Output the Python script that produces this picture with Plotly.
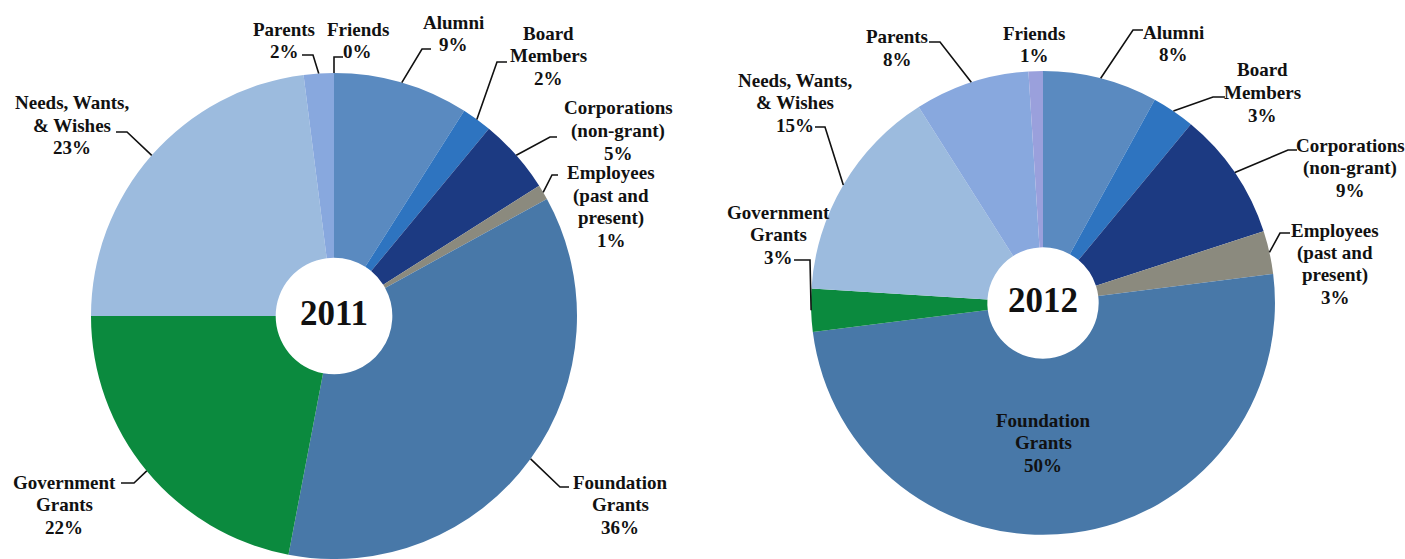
import math
import plotly.graph_objects as go

W, H = 1405, 559

# ---------------- data ----------------
categories = ["Alumni", "Board Members", "Corporations (non-grant)",
              "Employees (past and present)", "Foundation Grants",
              "Government Grants", "Needs, Wants, & Wishes", "Parents", "Friends"]
label_lines = {
    "Alumni": ["Alumni"],
    "Board Members": ["Board", "Members"],
    "Corporations (non-grant)": ["Corporations", "(non-grant)"],
    "Employees (past and present)": ["Employees", "(past and", "present)"],
    "Foundation Grants": ["Foundation", "Grants"],
    "Government Grants": ["Government", "Grants"],
    "Needs, Wants, & Wishes": ["Needs, Wants,", "& Wishes"],
    "Parents": ["Parents"],
    "Friends": ["Friends"],
}
values_2011 = [9, 2, 5, 1, 36, 22, 23, 2, 0]
values_2012 = [8, 3, 9, 3, 50, 3, 15, 8, 1]
years = ["2011", "2012"]

colors = ["#5A8AC0", "#2E74C0", "#1C3A82", "#8B8A7E", "#4878A8",
          "#0B8A3E", "#9CBBDE", "#88A8DE", "#9AA0DC"]

# ---------------- layout (pixel placements) ----------------
pie_geom = {
    "2011": dict(cx=334, cy=316, r=243),
    "2012": dict(cx=1043, cy=303, r=232),
}
# text centre x, first line y, leader corner, leader end (near text)
label_place = {
    "2011": {
        "Alumni": (453, 22, (422, 49), (431, 49)),
        "Board Members": (548, 33, (497, 62), (507, 62)),
        "Corporations (non-grant)": (618, 108, (550, 137), (557, 137)),
        "Employees (past and present)": (611, 173, (552, 175), (558, 175)),
        "Foundation Grants": (620, 482, (560, 487), (569, 487)),
        "Government Grants": (64, 482, (134, 483), (121, 483)),
        "Needs, Wants, & Wishes": (72, 103, (127, 132), (116, 132)),
        "Parents": (284, 29, (313, 55), (302, 55)),
        "Friends": (358, 29, (334, 57), (343, 57)),
    },
    "2012": {
        "Alumni": (1173, 32, (1133, 30), (1143, 30)),
        "Board Members": (1262, 70, (1213, 97), (1225, 97)),
        "Corporations (non-grant)": (1350, 145, (1288, 150), (1297, 150)),
        "Employees (past and present)": (1335, 230, (1280, 233), (1290, 233)),
        "Foundation Grants": (1043, 420, None, None),
        "Government Grants": (778, 212, (810, 260), (794, 260)),
        "Needs, Wants, & Wishes": (795, 80, (825, 127), (815, 127)),
        "Parents": (897, 37, (940, 42), (929, 42)),
        "Friends": (1034, 33, None, None),
    },
}
LINE_H = 22.5
FONT = "Liberation Serif, Times New Roman, serif"
FS = 19
HOLE = 0.24


def px(x):
    return x / W


def py(y):
    return 1 - y / H


fig = go.Figure()
annotations = []
shapes = []

for year, vals in zip(years, [values_2011, values_2012]):
    g = pie_geom[year]
    fig.add_trace(go.Pie(
        labels=categories, values=vals, sort=False, direction="clockwise",
        rotation=0, hole=HOLE, textinfo="none", showlegend=False,
        marker=dict(colors=colors, line=dict(width=0)),
        domain=dict(x=[px(g["cx"] - g["r"]), px(g["cx"] + g["r"])],
                    y=[py(g["cy"] + g["r"]), py(g["cy"] - g["r"])]),
        hoverinfo="label+percent",
    ))
    annotations.append(dict(
        x=px(g["cx"]), y=py(g["cy"] - 3), xref="paper", yref="paper",
        text=year, showarrow=False, xanchor="center", yanchor="middle",
        font=dict(family=FONT, size=35, color="#111", weight="bold")))

    total = float(sum(vals))
    cum = 0.0
    for cat, v in zip(categories, vals):
        mid = (cum + v / 2.0) / total
        cum += v
        ang = 2 * math.pi * mid
        ex = g["cx"] + g["r"] * math.sin(ang)
        ey = g["cy"] - g["r"] * math.cos(ang)
        tx, ty, corner, end = label_place[year][cat]
        lines = label_lines[cat] + [f"{round(v)}%"]
        for i, t in enumerate(lines):
            annotations.append(dict(
                x=px(tx), y=py(ty + i * LINE_H), xref="paper", yref="paper",
                text=t, showarrow=False, xanchor="center", yanchor="middle",
                font=dict(family=FONT, size=FS, color="#111", weight="bold")))
        if corner is not None:
            path = (f"M {px(ex)} {py(ey)} L {px(corner[0])} {py(corner[1])} "
                    f"L {px(end[0])} {py(end[1])}")
            shapes.append(dict(type="path", path=path, xref="paper", yref="paper",
                               line=dict(color="#111", width=1.6)))

fig.update_layout(
    width=W, height=H, autosize=False,
    margin=dict(l=0, r=0, t=0, b=0),
    paper_bgcolor="white", plot_bgcolor="white",
    annotations=annotations, shapes=shapes,
)

fig.write_html("out.html", config={"displayModeBar": False},
               post_script="document.body.style.margin='0';document.body.style.overflow='hidden';")
